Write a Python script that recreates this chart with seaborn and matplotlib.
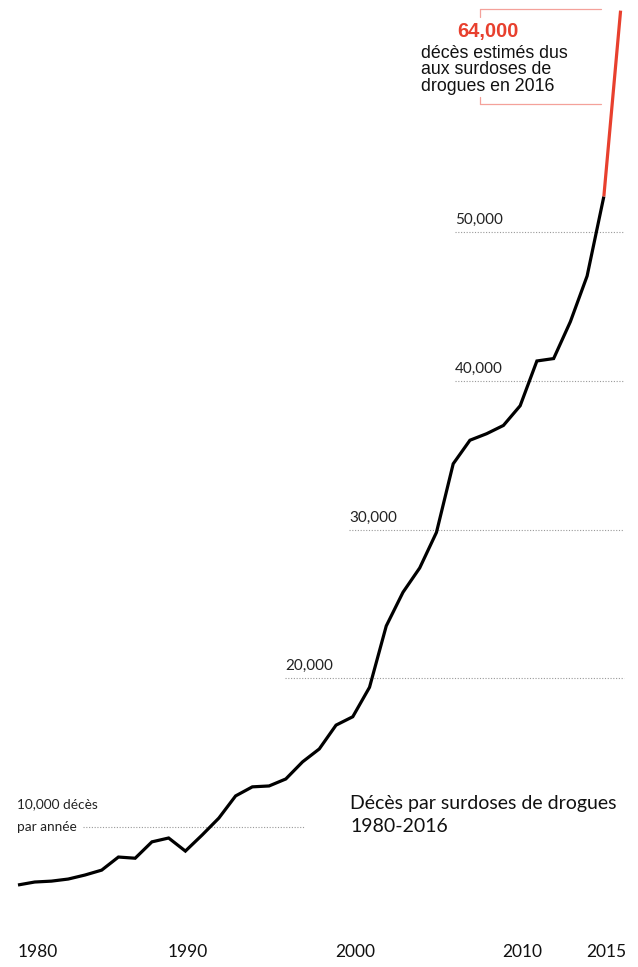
import numpy as np
import pandas as pd
import matplotlib
matplotlib.use("Agg")
import matplotlib.pyplot as plt
import seaborn as sns
from matplotlib.lines import Line2D

years = list(range(1980, 2017))
deaths = [6100, 6300, 6360, 6500, 6770, 7100, 7980, 7900, 9000, 9260,
          8380, 9460, 10600, 12090, 12700, 12760, 13230, 14380, 15250, 16850,
          17415, 19394, 23518, 25785, 27424, 29813, 34425, 36010, 36450, 37004,
          38329, 41340, 41502, 43982, 47055, 52404, 64900]
tick_years = [1980, 1990, 2000, 2010, 2015]
grid_values = [10000, 20000, 30000, 40000, 50000]
grid_labels = ["par année", "20,000", "30,000", "40,000", "50,000"]
grid_starts = [1983.9, 1995.95, 1999.8, 2006.1, 2006.1]
grid_ends = [1997.1, 2016.2, 2016.2, 2016.2, 2016.2]

sns.set_theme(style="white")
narrow = ["Lato", "DejaVu Sans"]
plt.rcParams["font.family"] = ["Liberation Sans", "DejaVu Sans"]

df = pd.DataFrame({"year": years, "deaths": deaths})
hist = df[df.year <= 2015]
last = df[df.year >= 2015]

fig = plt.figure(figsize=(6.38, 9.67), dpi=100)
ax = fig.add_axes([0, 0, 1, 1])
ax.set_xlim(1978.925, 2017.04)
ax.set_ylim(585, 65615)
ax.axis("off")

for v, s, e in zip(grid_values, grid_starts, grid_ends):
    ax.hlines(v, s, e, colors="#999999", linestyles=(0, (1, 1.5)), linewidth=0.8, zorder=1)

sns.lineplot(data=hist, x="year", y="deaths", color="black", linewidth=2.3, ax=ax,
             zorder=3, solid_capstyle="butt", solid_joinstyle="miter")
sns.lineplot(data=last, x="year", y="deaths", color="#e8402e", linewidth=2.3, ax=ax,
             zorder=3, solid_capstyle="butt")

# grid labels
off = 5.0 / 14.87 * 1000
for v, s, lab in zip(grid_values[1:], grid_starts[1:], grid_labels[1:]):
    ax.text(s, v + off, lab, ha="left", va="bottom", fontsize=11,
            family=narrow, color="#222222")
ax.text(1980 - 0.05, 10000, "par année", ha="left", va="center", fontsize=9.8,
        family=narrow, color="#222222")
ax.text(1980 - 0.05, 10000 + 23 / 14.87 * 1000, "10,000 décès", ha="left", va="center",
        fontsize=9.8, family=narrow, color="#222222")

# year labels
for y in tick_years:
    if y == 1980:
        ax.text(y - 0.05, 0.0155, str(y), transform=ax.get_xaxis_transform(), ha="left",
                va="center", fontsize=12.5, family=narrow, color="#111111")
    else:
        ax.text(y + 0.15, 0.0155, str(y), transform=ax.get_xaxis_transform(), ha="center",
                va="center", fontsize=12.5, family=narrow, color="#111111")

# title
fig.text(350 / 638, 1 - 815 / 967, "Décès par surdoses de drogues\n1980-2016", ha="left",
         va="center", fontsize=14, family=narrow, color="#111111", linespacing=1.4)

# annotation
fig.text(457 / 638, 1 - 31 / 967, "64,000", ha="left", va="center", fontsize=14.5,
         fontweight="bold", color="#e8402e")
fig.text(421 / 638, 1 - 70 / 967, "décès estimés dus\naux surdoses de\ndrogues en 2016",
         ha="left", va="center", fontsize=12.8, color="#111111", linespacing=0.98)

bc = "#f4a19a"
W, H = 638, 967
def seg(x0, y0, x1, y1):
    fig.add_artist(Line2D([x0 / W, x1 / W], [1 - y0 / H, 1 - y1 / H], color=bc,
                          linewidth=0.9, transform=fig.transFigure))
seg(480, 9, 601, 9)
seg(480, 9, 480, 17)
seg(480, 104, 601, 104)
seg(480, 97, 480, 104)

fig.savefig("out.png", dpi=100)
